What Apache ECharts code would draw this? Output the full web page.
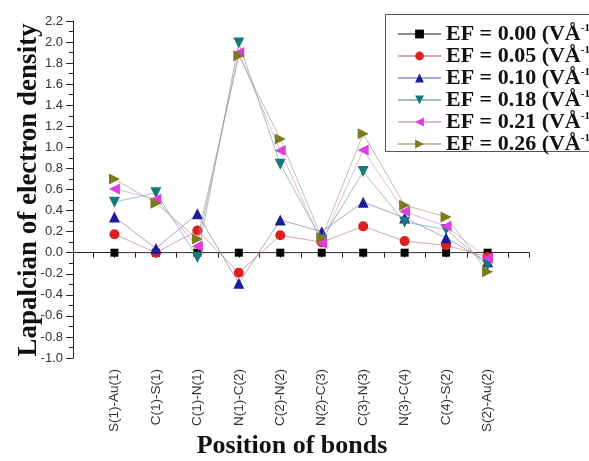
<!DOCTYPE html>
<html><head><meta charset="utf-8">
<script src="https://cdn.jsdelivr.net/npm/echarts@6/dist/echarts.min.js"></script>
<style>html,body{margin:0;padding:0;background:#fff}#c{width:589px;height:461px}</style>
</head><body><div id="c"></div>
<script>
var categories = ['S(1)-Au(1)','C(1)-S(1)','C(1)-N(1)','N(1)-C(2)','C(2)-N(2)','N(2)-C(3)','C(3)-N(3)','N(3)-C(4)','C(4)-S(2)','S(2)-Au(2)'];
var seriesNames = ['EF = 0.00','EF = 0.05','EF = 0.10','EF = 0.18','EF = 0.21','EF = 0.26'];
var ef000 = [0,0,0,0,0,0,0,0,0,0];
var ef005 = [0.175,0.0,0.21,-0.19,0.165,0.10,0.25,0.11,0.07,-0.04];
var ef010 = [0.34,0.04,0.37,-0.29,0.31,0.20,0.48,0.33,0.14,-0.085];
var ef018 = [0.48,0.57,-0.045,1.99,0.84,0.12,0.77,0.29,0.22,-0.12];
var ef021 = [0.605,0.51,0.06,1.90,0.97,0.09,0.975,0.39,0.25,-0.05];
var ef026 = [0.70,0.47,0.13,1.87,1.08,0.14,1.13,0.45,0.34,-0.18];
var yTicks = {min:-1.0, max:2.2, step:0.2};
var yTitle = 'Lapalcian of electron density';
var xTitle = 'Position of bonds';

var allVals = [ef000,ef005,ef010,ef018,ef021,ef026];
var colors = ['#000000','#dd1f1f','#1c1c9c','#167a78','#e03ce0','#7d7b1c'];
var lineCols = ['rgba(90,90,90,0.7)','rgba(190,110,110,0.6)','rgba(110,110,170,0.6)','rgba(100,150,150,0.6)','rgba(200,140,200,0.6)','rgba(150,150,110,0.6)'];
var symbols = ['rect','circle','triangle','triangle','triangle','triangle'];
var sizes = [8,10,11,11,11,11];
var rots = [0,0,0,180,90,-90];

var serif = "'Liberation Serif','Times New Roman',serif";
var sans = "'Liberation Sans',Arial,sans-serif";

var series = allVals.map(function(vals, k){
  return {
    name: seriesNames[k], type:'line',
    data: vals.map(function(v,i){return [i+1, v];}),
    symbol: symbols[k], symbolSize: sizes[k], symbolRotate: rots[k],
    itemStyle:{color:colors[k]},
    lineStyle:{color:lineCols[k], width:1},
    z: 2+k, animation:false
  };
});

var chart = echarts.init(document.getElementById('c'), null, {renderer:'canvas'});
chart.setOption({
  backgroundColor:'#fff',
  animation:false,
  grid:{left:73, right:60, top:21, bottom:103},
  xAxis:{type:'value', min:0, max:11, interval:1,
    axisLine:{lineStyle:{color:'#222', width:1}},
    axisTick:{show:true, length:5, lineStyle:{color:'#222'}},
    minorTick:{show:true, splitNumber:2, length:5, lineStyle:{color:'#222'}},
    splitLine:{show:false},
    axisLabel:{rotate:90, margin:11, fontSize:13.5, fontFamily:sans, color:'#333',
      formatter:function(v){return categories[v-1]||'';}}
  },
  yAxis:{type:'value', min:yTicks.min, max:yTicks.max, interval:yTicks.step,
    axisLine:{show:true, lineStyle:{color:'#222', width:1}},
    axisTick:{show:true, length:7, lineStyle:{color:'#222'}},
    minorTick:{show:true, splitNumber:2, length:4, lineStyle:{color:'#222'}},
    splitLine:{show:false},
    axisLabel:{margin:10, fontSize:13, fontFamily:sans, color:'#333',
      formatter:function(v){return v.toFixed(1);}}
  },
  legend:{orient:'vertical', left:392, top:18, itemWidth:43, itemHeight:11, itemGap:0,
    data:seriesNames,
    formatter:function(n){return n+' (VÅ{s|-1})';},
    textStyle:{fontFamily:serif, fontWeight:'bold', fontSize:22, color:'#111', lineHeight:22,
      rich:{s:{fontFamily:serif, fontWeight:'bold', fontSize:11, verticalAlign:'top', color:'#111', lineHeight:22}}}
  },
  graphic:[
    {type:'rect', z:1, shape:{x:385.5, y:14.5, width:230, height:137}, style:{fill:'#fff', stroke:'#555', lineWidth:1}},
    {type:'text', z:5, x:29, y:190, rotation:Math.PI/2, style:{text:yTitle, x:0, y:0, align:'center', verticalAlign:'middle', font:"bold 27px 'Liberation Serif'", fill:'#111'}},
    {type:'text', z:5, style:{text:xTitle, x:292, y:446, align:'center', verticalAlign:'middle', font:"bold 26px 'Liberation Serif'", fill:'#111'}}
  ],
  series:series
});
</script></body></html>
